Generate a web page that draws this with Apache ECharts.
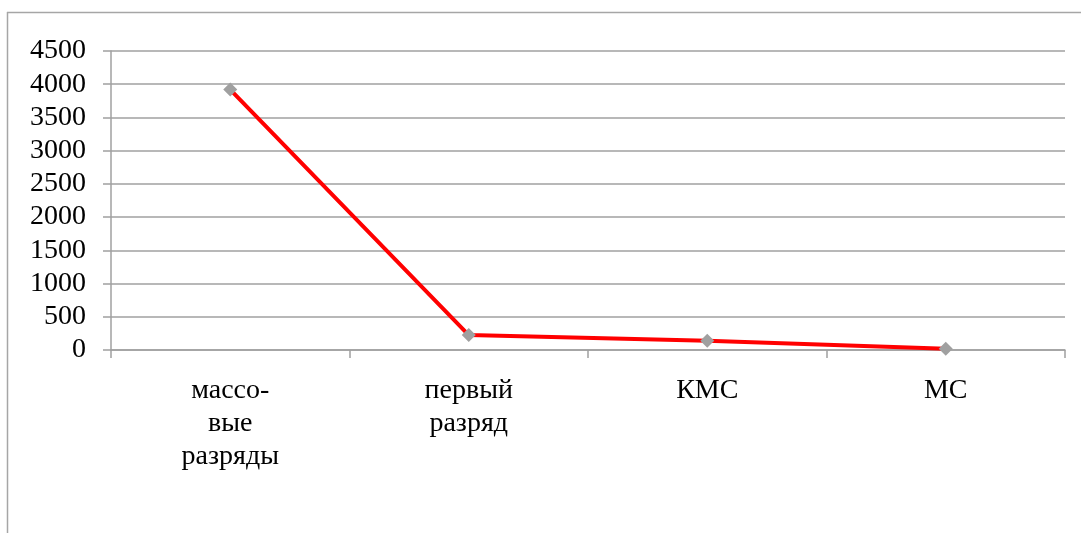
<!DOCTYPE html>
<html>
<head>
<meta charset="utf-8">
<script src="https://cdn.jsdelivr.net/npm/echarts@6/dist/echarts.min.js"></script>
<style>
html,body{margin:0;padding:0;background:#fff;}
#c{width:1081px;height:533px;}
</style>
</head>
<body>
<div id="c"></div>
<script>
var categories = ['массо-\nвые\nразряды', 'первый\nразряд', 'КМС', 'МС'];
var values = [3920, 225, 140, 20];
var yMin = 0, yMax = 4500, yStep = 500;

var chart = echarts.init(document.getElementById('c'));
var font = '"Liberation Serif", "Times New Roman", serif';
chart.setOption({
  animation: false,
  backgroundColor: '#ffffff',
  graphic: [
    {type: 'line', shape: {x1: 7.5, y1: 12, x2: 7.5, y2: 533}, style: {stroke: '#a6a6a6', lineWidth: 1.5}},
    {type: 'line', shape: {x1: 7, y1: 12.5, x2: 1081, y2: 12.5}, style: {stroke: '#a6a6a6', lineWidth: 1.5}}
  ],
  grid: {left: 111, right: 16, top: 51, bottom: 183, containLabel: false},
  xAxis: {
    type: 'category',
    data: categories,
    boundaryGap: true,
    axisLine: {show: true, lineStyle: {color: '#a0a0a0', width: 1.5}},
    axisTick: {show: true, length: 8, lineStyle: {color: '#a0a0a0', width: 1.5}},
    axisLabel: {color: '#000', fontFamily: font, fontSize: 28, margin: 24, lineHeight: 33, interval: 0}
  },
  yAxis: {
    type: 'value',
    min: yMin, max: yMax, interval: yStep,
    axisLine: {show: true, lineStyle: {color: '#a0a0a0', width: 1.5}},
    axisTick: {show: true, length: 8, lineStyle: {color: '#a0a0a0', width: 1.5}},
    splitLine: {show: true, lineStyle: {color: '#a0a0a0', width: 1.5}},
    axisLabel: {color: '#000', fontFamily: font, fontSize: 28, margin: 25, padding: [3, 0, 0, 0],
      formatter: function (v) { return String(v); }}
  },
  series: [{
    type: 'line',
    data: values,
    symbol: 'diamond',
    symbolSize: 14,
    itemStyle: {color: '#a0a0a0'},
    lineStyle: {color: '#ff0000', width: 4},
    z: 3
  }]
});
</script>
</body>
</html>
